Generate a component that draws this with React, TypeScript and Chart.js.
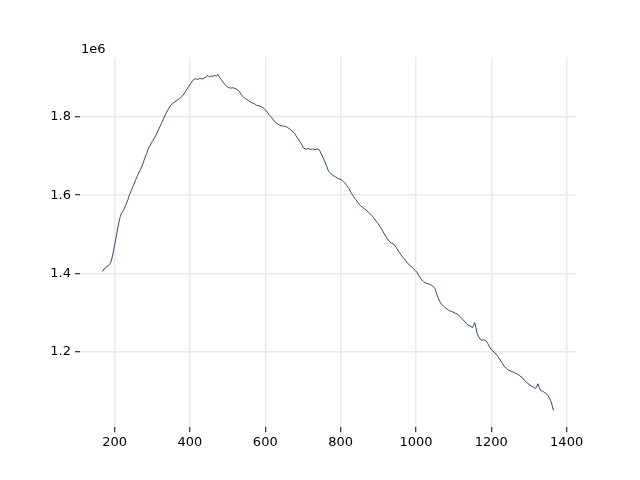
import React, { useEffect, useRef } from "react";
import { Chart, registerables } from "chart.js";

Chart.register(...registerables);

const xValues: number[] = [
  168, 172, 176, 180, 184, 188, 191, 194, 197, 200, 203, 206, 209, 212, 215, 218, 221, 224, 228, 232,
  236, 240, 245, 250, 255, 260, 265, 270, 275, 280, 285, 290, 295, 300, 306, 312, 318, 324, 330, 336,
  342, 348, 354, 360, 366, 372, 378, 384, 390, 396, 402, 408, 414, 420, 426, 432, 438, 444, 448, 452,
  456, 461, 466, 470, 474, 478, 482, 487, 492, 497, 502, 508, 514, 520, 526, 531, 536, 542, 548, 554,
  560, 566, 571, 577, 583, 589, 594, 600, 605, 610, 615, 620, 625, 630, 636, 642, 648, 654, 660, 666,
  672, 678, 684, 690, 696, 702, 708, 714, 720, 726, 732, 738, 744, 750, 756, 762, 768, 774, 780, 786,
  792, 798, 804, 810, 816, 822, 828, 834, 840, 846, 852, 858, 864, 870, 876, 882, 888, 894, 900, 906,
  912, 918, 924, 930, 936, 942, 948, 954, 960, 966, 972, 978, 984, 990, 996, 1002, 1008, 1014, 1020, 1026,
  1032, 1038, 1044, 1050, 1054, 1058, 1063, 1068, 1074, 1080, 1086, 1092, 1098, 1104, 1110, 1116, 1122, 1128, 1134, 1140,
  1146, 1150, 1153, 1156, 1159, 1162, 1166, 1170, 1175, 1180, 1186, 1191, 1196, 1201, 1207, 1212, 1217, 1222, 1228, 1234,
  1240, 1246, 1252, 1258, 1264, 1270, 1276, 1282, 1288, 1294, 1300, 1306, 1312, 1318, 1321, 1324, 1327, 1331, 1336, 1341,
  1346, 1351, 1355, 1359, 1362, 1365,
];

const yMillions: number[] = [
  1.405, 1.412, 1.414, 1.419, 1.421, 1.426, 1.432, 1.443, 1.458, 1.472, 1.488, 1.503, 1.519, 1.534, 1.545, 1.553, 1.558, 1.562, 1.571, 1.58,
  1.59, 1.602, 1.614, 1.625, 1.637, 1.648, 1.659, 1.668, 1.68, 1.694, 1.706, 1.72, 1.728, 1.737, 1.746, 1.757, 1.77, 1.782, 1.795, 1.808,
  1.818, 1.828, 1.834, 1.838, 1.842, 1.846, 1.851, 1.858, 1.867, 1.876, 1.885, 1.893, 1.897, 1.895, 1.898, 1.896, 1.899, 1.902, 1.905, 1.901,
  1.904, 1.903, 1.906, 1.903, 1.908, 1.902, 1.896, 1.889, 1.883, 1.878, 1.875, 1.873, 1.874, 1.872, 1.869, 1.865, 1.857, 1.85, 1.846, 1.842,
  1.838, 1.835, 1.833, 1.829, 1.828, 1.826, 1.823, 1.818, 1.812, 1.805, 1.8, 1.794, 1.788, 1.783, 1.78, 1.777, 1.776, 1.775, 1.772, 1.768,
  1.763, 1.757, 1.748, 1.739, 1.73, 1.72, 1.717, 1.719, 1.717, 1.718, 1.716, 1.718, 1.715, 1.702, 1.69, 1.676, 1.661, 1.655, 1.65, 1.647,
  1.643, 1.641, 1.638, 1.632, 1.625, 1.617, 1.606, 1.597, 1.589, 1.581, 1.574, 1.569, 1.565, 1.56, 1.555, 1.549, 1.542, 1.534, 1.527, 1.518,
  1.508, 1.498, 1.489, 1.481, 1.477, 1.474, 1.466, 1.457, 1.448, 1.441, 1.434, 1.426, 1.421, 1.416, 1.41, 1.404, 1.394, 1.386, 1.379, 1.376,
  1.374, 1.372, 1.369, 1.362, 1.352, 1.34, 1.329, 1.322, 1.316, 1.311, 1.307, 1.304, 1.302, 1.299, 1.297, 1.291, 1.285, 1.279, 1.272, 1.268,
  1.265, 1.262, 1.268, 1.275, 1.262, 1.248, 1.24, 1.233, 1.23, 1.231, 1.229, 1.221, 1.212, 1.205, 1.2, 1.195, 1.189, 1.182, 1.173, 1.164,
  1.158, 1.153, 1.151, 1.149, 1.146, 1.143, 1.139, 1.135, 1.128, 1.122, 1.118, 1.113, 1.11, 1.107, 1.112, 1.119, 1.11, 1.102, 1.1, 1.097,
  1.094, 1.088, 1.081, 1.073, 1.062, 1.051,
];

const xTickValues: number[] = [200, 400, 600, 800, 1000, 1200, 1400];
const yTickValues: number[] = [1.2e6, 1.4e6, 1.6e6, 1.8e6];
const offsetLabel = "1e6";

const FONT = "'DejaVu Sans', sans-serif";

export default function App() {
  const ref = useRef<HTMLCanvasElement | null>(null);

  useEffect(() => {
    if (!ref.current) return;
    const points = xValues.map((x, i) => ({ x, y: yMillions[i] * 1e6 }));
    const xMinD = Math.min(...xValues);
    const xMaxD = Math.max(...xValues);
    const yVals = points.map((p) => p.y);
    const yMinD = Math.min(...yVals);
    const yMaxD = Math.max(...yVals);
    const xm = (xMaxD - xMinD) * 0.05;
    const ym = (yMaxD - yMinD) * 0.05;

    const offsetPlugin = {
      id: "offsetText",
      afterDraw(chart: any) {
        const ctx = chart.ctx;
        ctx.save();
        ctx.font = `13px ${FONT}`;
        ctx.fillStyle = "#000";
        ctx.textAlign = "left";
        ctx.textBaseline = "alphabetic";
        ctx.fillText(offsetLabel, chart.chartArea.left + 1, chart.chartArea.top - 5);
        ctx.restore();
      },
    };

    const gridOpts = {
      color: "#e9e9e9",
      lineWidth: 1.5,
      tickColor: "#000",
      tickWidth: 1,
      tickLength: 5,
      drawTicks: true,
    };

    const chart = new Chart(ref.current, {
      type: "line",
      data: {
        datasets: [
          {
            data: points,
            borderColor: "#2f4b70",
            borderWidth: 1,
            pointRadius: 0,
            tension: 0,
            fill: false,
          },
        ],
      },
      options: {
        animation: false,
        responsive: false,
        devicePixelRatio: 1,
        layout: { padding: { left: 0, top: 57.6, right: 64, bottom: 0 } },
        plugins: { legend: { display: false }, tooltip: { enabled: false } },
        scales: {
          x: {
            type: "linear",
            min: xMinD - xm,
            max: xMaxD + xm,
            afterBuildTicks: (scale: any) => {
              scale.ticks = xTickValues.map((v) => ({ value: v }));
            },
            afterFit: (scale: any) => {
              scale.height = 52.8;
            },
            grid: gridOpts,
            border: { display: false },
            ticks: {
              color: "#000",
              font: { family: FONT, size: 13 },
              padding: 3,
              maxRotation: 0,
              autoSkip: false,
              callback: (v: any) => String(v),
            },
          },
          y: {
            type: "linear",
            min: yMinD - ym,
            max: yMaxD + ym,
            afterBuildTicks: (scale: any) => {
              scale.ticks = yTickValues.map((v) => ({ value: v }));
            },
            afterFit: (scale: any) => {
              scale.width = 80;
            },
            grid: gridOpts,
            border: { display: false },
            ticks: {
              color: "#000",
              font: { family: FONT, size: 13 },
              padding: 4,
              autoSkip: false,
              callback: (v: any) => (Number(v) / 1e6).toFixed(1),
            },
          },
        },
      },
      plugins: [offsetPlugin],
    });
    return () => chart.destroy();
  }, []);

  return (
    <div style={{ position: "fixed", left: 0, top: 0, width: 640, height: 480, background: "#fff" }}>
      <canvas ref={ref} width={640} height={480} style={{ width: 640, height: 480 }} />
    </div>
  );
}
